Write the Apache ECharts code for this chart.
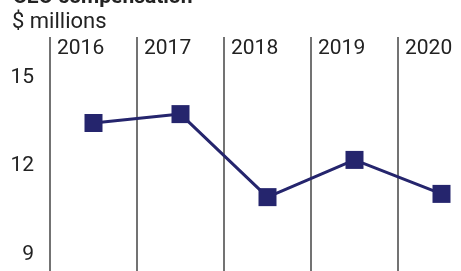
<!DOCTYPE html>
<html>
<head>
<meta charset="utf-8">
<script src="https://cdn.jsdelivr.net/npm/echarts@6/dist/echarts.min.js"></script>
<style>html,body{margin:0;padding:0;background:#fff;}#c{width:461px;height:271px;}</style>
</head>
<body>
<div id="c"></div>
<script>
const titleText = 'CEO compensation';
const unitText = '$ millions';
const years = ['2016', '2017', '2018', '2019', '2020'];
const compensation = [13.46, 13.76, 10.95, 12.21, 11.06];
const yTicks = [9, 12, 15];

const FONT = 'Roboto';
const chart = echarts.init(document.getElementById('c'), null, {renderer: 'canvas'});
chart.setOption({
  animation: false,
  graphic: [
    {type: 'text', x: 13, y: 8, style: {text: titleText, fontFamily: FONT, fontSize: 21, fontWeight: 'bold', fill: '#222', verticalAlign: 'bottom'}}
  ],
  title: [
    {text: unitText, left: 12, top: 11, padding: 0, textStyle: {fontFamily: FONT, fontSize: 22, fontWeight: 'normal', color: '#222'}}
  ],
  grid: {left: 50, right: -24, top: 37, bottom: 0, containLabel: false, outerBoundsMode: 'none'},
  xAxis: [
    {
      type: 'category', data: years, boundaryGap: true, position: 'bottom',
      axisLine: {show: false}, axisTick: {show: false}, axisLabel: {show: false},
      splitLine: {show: true, lineStyle: {color: '#444', width: 1.5}}
    },
    {
      type: 'category', data: years.concat(['']), boundaryGap: false, position: 'top',
      axisLine: {show: false}, axisTick: {show: false}, splitLine: {show: false},
      axisLabel: {show: true, inside: true, interval: 0, align: 'left', verticalAlign: 'middle', margin: 12,
        padding: [0, 0, 0, 7], fontFamily: FONT, fontSize: 21, color: '#222'}
    }
  ],
  yAxis: {
    type: 'value', min: 8.45, max: 16.37,
    axisLine: {show: false}, axisTick: {show: false}, splitLine: {show: false},
    axisLabel: {customValues: yTicks, margin: 16, fontFamily: FONT, fontSize: 21, color: '#222'}
  },
  series: [{
    type: 'line', xAxisIndex: 0, data: compensation,
    symbol: 'rect', symbolSize: 18,
    lineStyle: {color: '#25256d', width: 3},
    itemStyle: {color: '#25256d'}
  }]
});
</script>
</body>
</html>
